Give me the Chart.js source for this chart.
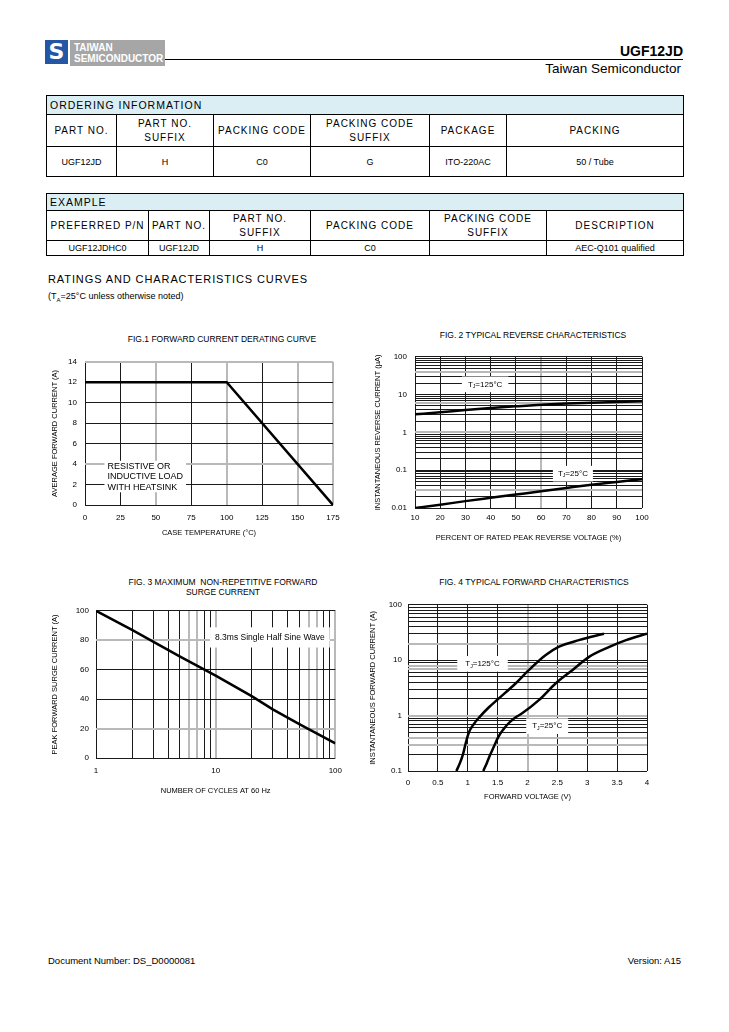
<!DOCTYPE html>
<html><head><meta charset="utf-8">
<script src="https://cdn.jsdelivr.net/npm/chart.js@4.4.1/dist/chart.umd.min.js"></script>
<style>
body{margin:0;width:729px;height:1032px;position:relative;background:#fff;font-family:"Liberation Sans",Arial,sans-serif;color:#000;overflow:hidden}
.abs{position:absolute;white-space:nowrap}
table{position:absolute;border-collapse:collapse;table-layout:fixed;width:638px}
td{border:1px solid #000;padding:0;text-align:center;vertical-align:middle;overflow:hidden;white-space:nowrap;line-height:12px}
tr.hd td{background:#daeef3;text-align:left;padding-left:3px;font-size:10.5px;letter-spacing:1px}
tr.ch td{font-size:10px;letter-spacing:1px;line-height:14px}
tr.dt td{font-size:9px}
canvas{position:absolute}
.ft{position:absolute;font-size:8.5px;text-align:center;white-space:nowrap;transform:translateX(-50%);line-height:10px}
</style></head>
<body>
<!-- header -->
<div class="abs" style="left:45px;top:40px;width:23px;height:24px;background:#2556a6;color:#fff;font-weight:bold;font-size:22px;line-height:24px;text-align:center;font-family:'DejaVu Sans',sans-serif">S</div>
<div class="abs" style="left:70px;top:40px;width:95px;height:26px;background:#a6a6a6;color:#fff;font-weight:bold;font-size:10px;line-height:11px;padding-left:4px;box-sizing:border-box;padding-top:2px">TAIWAN<br>SEMICONDUCTOR</div>
<div class="abs" style="left:165px;top:59px;width:518px;height:1px;background:#000"></div>
<div class="abs" style="right:46px;top:43px;font-weight:bold;font-size:14px">UGF12JD</div>
<div class="abs" style="right:48px;top:61px;font-size:13.5px">Taiwan Semiconductor</div>

<table style="left:46px;top:95px">
<colgroup><col style="width:70px"><col style="width:97px"><col style="width:97px"><col style="width:119px"><col style="width:77px"><col style="width:177px"></colgroup>
<tr class="hd" style="height:19px"><td colspan="6">ORDERING INFORMATION</td></tr>
<tr class="ch" style="height:32px"><td>PART NO.</td><td>PART NO.<br>SUFFIX</td><td>PACKING CODE</td><td>PACKING CODE<br>SUFFIX</td><td>PACKAGE</td><td>PACKING</td></tr>
<tr class="dt" style="height:30px"><td>UGF12JD</td><td>H</td><td>C0</td><td>G</td><td>ITO-220AC</td><td>50 / Tube</td></tr>
</table>

<table style="left:46px;top:193px">
<colgroup><col style="width:102px"><col style="width:61px"><col style="width:101px"><col style="width:119px"><col style="width:117px"><col style="width:137px"></colgroup>
<tr class="hd" style="height:17px"><td colspan="6">EXAMPLE</td></tr>
<tr class="ch" style="height:30px"><td>PREFERRED P/N</td><td>PART NO.</td><td>PART NO.<br>SUFFIX</td><td>PACKING CODE</td><td>PACKING CODE<br>SUFFIX</td><td>DESCRIPTION</td></tr>
<tr class="dt" style="height:15px"><td>UGF12JDHC0</td><td>UGF12JD</td><td>H</td><td>C0</td><td></td><td>AEC-Q101 qualified</td></tr>
</table>

<div class="abs" style="left:48px;top:273px;font-size:11px;letter-spacing:0.9px">RATINGS AND CHARACTERISTICS CURVES</div>
<div class="abs" style="left:48px;top:291px;font-size:9px">(T<sub style="font-size:6px">A</sub>=25°C unless otherwise noted)</div>

<div class="ft" style="left:222px;top:334px">FIG.1 FORWARD CURRENT DERATING CURVE</div>
<div class="ft" style="left:533px;top:330px">FIG. 2 TYPICAL REVERSE CHARACTERISTICS</div>
<div class="ft" style="left:223px;top:577px">FIG. 3 MAXIMUM&nbsp; NON-REPETITIVE FORWARD<br>SURGE CURRENT</div>
<div class="ft" style="left:534px;top:577px">FIG. 4 TYPICAL FORWARD CHARACTERISTICS</div>

<canvas id="c1" width="310" height="196" style="left:40px;top:349px"></canvas>
<canvas id="c2" width="295" height="204" style="left:365px;top:344px"></canvas>
<canvas id="c3" width="310" height="200" style="left:40px;top:599px"></canvas>
<canvas id="c4" width="300" height="212" style="left:362px;top:594px"></canvas>

<div class="abs" style="left:48px;top:955px;font-size:9.5px">Document Number: DS_D0000081</div>
<div class="abs" style="right:48px;top:955px;font-size:9.5px">Version: A15</div>

<script>
// ---------- data ----------
// Fig.1 forward current derating
const fig1Temp = [0, 100, 175];
const fig1Current = [12, 12, 0];
const fig1XTicks = [0, 25, 50, 75, 100, 125, 150, 175];
const fig1YTicks = [0, 2, 4, 6, 8, 10, 12, 14];

// Fig.2 typical reverse characteristics
const fig2Percent = [10, 20, 30, 40, 50, 60, 70, 80, 90, 100];
const fig2Ir125 = [3.0, 3.4, 3.9, 4.4, 4.9, 5.4, 5.8, 6.1, 6.4, 6.7];
const fig2Ir25 = [0.010, 0.0122, 0.0152, 0.0186, 0.0227, 0.0277, 0.0339, 0.0413, 0.049, 0.058];
const fig2XTicks = [10, 20, 30, 40, 50, 60, 70, 80, 90, 100];
const fig2YTicks = [0.01, 0.1, 1, 10, 100];

// Fig.3 maximum non-repetitive forward surge current
const fig3Cycles = [1, 2, 3, 5, 10, 20, 30, 50, 100];
const fig3Surge = [100, 87, 79, 69, 56, 42, 33, 23, 10];
const fig3XTicks = [1, 10, 100];
const fig3YTicks = [0, 20, 40, 60, 80, 100];

// Fig.4 typical forward characteristics
const fig4Vf125 = [0.81, 0.87, 0.92, 0.97, 1.02, 1.10, 1.20, 1.35, 1.51, 1.80, 2.02, 2.30, 2.52, 2.86, 3.28];
const fig4If125 = [0.1, 0.14, 0.2, 0.33, 0.5, 0.7, 0.95, 1.4, 2.0, 3.8, 6.6, 12.3, 17.4, 23, 30];
const fig4Vf25 = [1.26, 1.32, 1.37, 1.44, 1.51, 1.60, 1.68, 1.78, 1.91, 2.19, 2.47, 2.75, 3.03, 3.37, 3.65, 4.0];
const fig4If25 = [0.1, 0.14, 0.19, 0.28, 0.41, 0.57, 0.72, 0.9, 1.1, 1.9, 3.8, 6.6, 11.5, 17.4, 23, 30];
const fig4XTicks = [0, 0.5, 1, 1.5, 2, 2.5, 3, 3.5, 4];
const fig4YTicks = [0.1, 1, 10, 100];

// ---------- helpers ----------
const FONT = '"Liberation Sans", Arial, sans-serif';
const BLACK = '#1a1a1a', GREY = '#b9b9b9';

function logGrid(min, max) {
  const out = [];
  for (let e = Math.floor(Math.log10(min)); e <= Math.ceil(Math.log10(max)); e++) {
    for (let m = 1; m <= 9; m++) {
      const v = +(m * Math.pow(10, e)).toPrecision(6);
      if (v >= min - 1e-12 && v <= max + 1e-12) out.push(v);
    }
  }
  return out;
}
function pts(xs, ys) { return xs.map((x, i) => ({x: x, y: ys[i]})); }

function scale(o) {
  const horiz = o.pos === 'bottom';
  return {
    type: o.type, position: o.pos, min: o.min, max: o.max,
    afterBuildTicks: s => { s.ticks = o.grid.map(v => ({value: v})); },
    afterFit: s => { if (horiz) s.height = o.size; else s.width = o.size; },
    border: {display: false},
    grid: {
      drawTicks: false,
      color: c => (c.tick && o.grey.includes(c.tick.value)) ? GREY : BLACK,
      lineWidth: c => (c.tick && o.grey.includes(c.tick.value)) ? 2 : 1
    },
    ticks: {
      autoSkip: false, maxRotation: 0, minRotation: 0, padding: o.tickPad, color: '#000',
      font: {family: FONT, size: 8},
      callback: v => o.labels.includes(v) ? String(v) : ''
    },
    title: {display: true, text: o.title, color: '#000', font: {family: FONT, size: 7.5}, padding: o.titlePad}
  };
}

const boxLabels = {
  id: 'boxLabels',
  beforeDatasetsDraw(chart, args, opts) {
    const ctx = chart.ctx, xs = chart.scales.x, ys = chart.scales.y;
    (opts.items || []).forEach(it => {
      const size = it.size, lh = it.lh || size * 1.2;
      const fMain = size + 'px ' + FONT, fSub = (size * 0.65).toFixed(1) + 'px ' + FONT;
      ctx.save();
      const widths = it.lines.map(line => line.reduce((w, p) => { ctx.font = p.sub ? fSub : fMain; return w + ctx.measureText(p.t).width; }, 0));
      const W = Math.max.apply(null, widths), H = lh * it.lines.length;
      const cx = xs.getPixelForValue(it.x), cy = ys.getPixelForValue(it.y);
      ctx.fillStyle = '#fff';
      ctx.fillRect(cx - W / 2 - it.padX, cy - H / 2 - it.padY, W + 2 * it.padX, H + 2 * it.padY);
      ctx.fillStyle = '#000';
      ctx.textBaseline = 'middle';
      ctx.textAlign = 'left';
      it.lines.forEach((line, i) => {
        let x = it.align === 'left' ? cx - W / 2 : cx - widths[i] / 2;
        const y = cy - H / 2 + lh * (i + 0.5);
        line.forEach(p => {
          ctx.font = p.sub ? fSub : fMain;
          ctx.fillText(p.t, x, p.sub ? y + size * 0.3 : y);
          x += ctx.measureText(p.t).width;
        });
      });
      ctx.restore();
    });
  }
};

function lineDs(data, smooth) {
  return {data: data, showLine: true, borderColor: '#000', borderWidth: 2.5, pointRadius: 0,
    tension: smooth ? 0.4 : 0, cubicInterpolationMode: smooth ? 'monotone' : 'default', fill: false};
}

function make(id, datasets, xs, ys, padding, items) {
  return new Chart(document.getElementById(id), {
    type: 'scatter',
    data: {datasets: datasets},
    plugins: [boxLabels],
    options: {
      responsive: false, animation: false, devicePixelRatio: 1,
      layout: {padding: padding},
      scales: {x: xs, y: ys},
      plugins: {legend: {display: false}, tooltip: {enabled: false}, title: {display: false}, boxLabels: {items: items}}
    }
  });
}

const TJ = (rest) => [{t: 'T'}, {t: 'J', sub: true}, {t: rest}];

// ---------- Fig.1 ----------
make('c1', [lineDs(pts(fig1Temp, fig1Current), false)],
  scale({type: 'linear', pos: 'bottom', min: 0, max: 175, grid: fig1XTicks, labels: fig1XTicks, grey: [50, 100, 150, 175],
    size: 40, tickPad: 8, title: 'CASE TEMPERATURE (°C)', titlePad: 7.5}),
  scale({type: 'linear', pos: 'left', min: 0, max: 14, grid: fig1YTicks, labels: fig1YTicks, grey: [4, 14],
    size: 45, tickPad: 8, title: 'AVERAGE FORWARD CURRENT (A)', titlePad: 10.5}),
  {top: 10, right: 17, left: 0, bottom: 0},
  [{x: 42.5, y: 2.78, size: 9, lh: 10.5, padX: 3, padY: 0, align: 'left',
    lines: [[{t: 'RESISTIVE OR'}], [{t: 'INDUCTIVE LOAD'}], [{t: 'WITH HEATSINK'}]]}]);

// ---------- Fig.2 ----------
make('c2', [lineDs(pts(fig2Percent, fig2Ir125), true), lineDs(pts(fig2Percent, fig2Ir25), true)],
  scale({type: 'linear', pos: 'bottom', min: 10, max: 100, grid: fig2XTicks, labels: fig2XTicks, grey: [60],
    size: 40, tickPad: 5, title: 'PERCENT OF RATED PEAK REVERSE VOLTAGE (%)', titlePad: 5.5}),
  scale({type: 'logarithmic', pos: 'left', min: 0.01, max: 100, grid: logGrid(0.01, 100), labels: fig2YTicks, grey: [40, 6, 1, 0.03],
    size: 50, tickPad: 8, title: 'INSTANTANEOUS REVERSE CURRENT (µA)', titlePad: 8.5}),
  {top: 10, right: 18, left: 0, bottom: 0},
  [{x: 37.8, y: 18.7, size: 8, padX: 6, padY: 3, lines: [TJ('=125°C')]},
   {x: 72.6, y: 0.081, size: 8, padX: 5, padY: 3, lines: [TJ('=25°C')]}]);

// ---------- Fig.3 ----------
make('c3', [lineDs(pts(fig3Cycles, fig3Surge), false)],
  scale({type: 'logarithmic', pos: 'bottom', min: 1, max: 100, grid: logGrid(1, 100), labels: fig3XTicks, grey: [6, 7, 10, 60, 70, 100],
    size: 41, tickPad: 8, title: 'NUMBER OF CYCLES AT 60 Hz', titlePad: 3.5}),
  scale({type: 'linear', pos: 'left', min: 0, max: 100, grid: fig3YTicks, labels: fig3YTicks, grey: [20, 80],
    size: 56, tickPad: 7, title: 'PEAK FORWARD SURGE CURRENT (A)', titlePad: 10.5}),
  {top: 10, right: 9, left: 0, bottom: 0},
  [{x: 28.4, y: 81.9, size: 8.5, padX: 5, padY: 5, lines: [[{t: '8.3ms Single Half Sine Wave'}]]}]);

// ---------- Fig.4 ----------
make('c4', [lineDs(pts(fig4Vf125, fig4If125), true), lineDs(pts(fig4Vf25, fig4If25), true)],
  scale({type: 'linear', pos: 'bottom', min: 0, max: 4, grid: fig4XTicks, labels: fig4XTicks, grey: [2],
    size: 35, tickPad: 6.5, title: 'FORWARD VOLTAGE (V)', titlePad: 4.5}),
  scale({type: 'logarithmic', pos: 'left', min: 0.1, max: 100, grid: logGrid(0.1, 100), labels: fig4YTicks, grey: [20, 8, 7, 1, 0.4, 0.3],
    size: 46, tickPad: 6, title: 'INSTANTANEOUS FORWARD CURRENT (A)', titlePad: 6.5}),
  {top: 10, right: 15, left: 0, bottom: 0},
  [{x: 1.247, y: 8.6, size: 8, padX: 8, padY: 3, lines: [TJ('=125°C')]},
   {x: 2.33, y: 0.645, size: 8, padX: 6, padY: 3, lines: [TJ('=25°C')]}]);
</script>
</body></html>
